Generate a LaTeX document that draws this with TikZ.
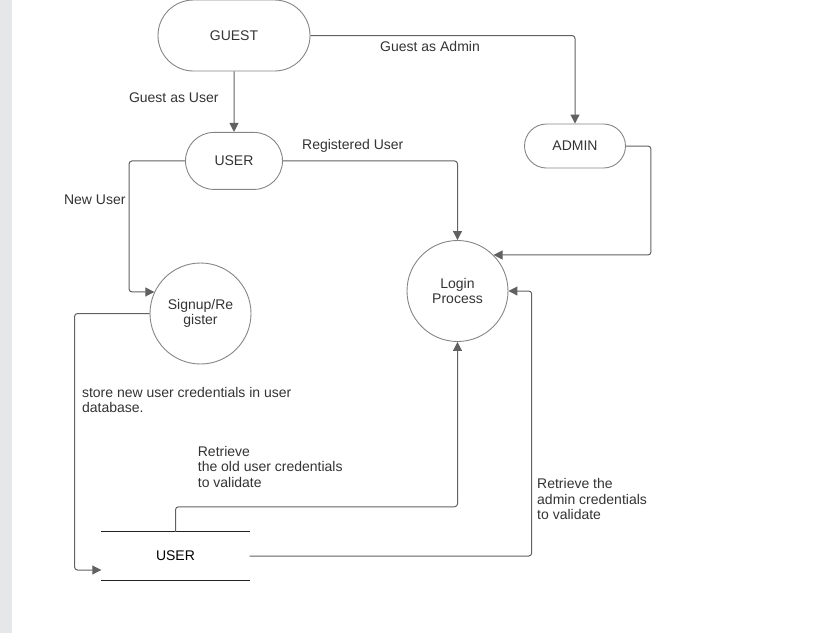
\documentclass[tikz,border=0pt]{standalone}
\usepackage{fontspec}
\setmainfont{Liberation Sans}
\usepackage{tikz}
\usetikzlibrary{arrows.meta, positioning, shapes.misc}
\definecolor{TextInk}{HTML}{333333}
\definecolor{NodeEdge}{HTML}{858585}
\definecolor{FlowInk}{HTML}{616161}
\definecolor{StoreInk}{HTML}{222222}
\definecolor{Strip}{HTML}{E6E7E8}

\begin{document}
\begin{tikzpicture}[
  x=1pt, y=-1pt,
  font=\fontsize{14}{15.5}\selectfont,
  text=TextInk,
  term/.style={
    rounded rectangle,
    draw=NodeEdge,
    line width=0.9pt,
    inner sep=0pt,
  },
  proc/.style={
    circle,
    draw=NodeEdge,
    line width=0.9pt,
    inner sep=0pt,
    minimum size=101pt,
    align=center,
  },
  flow/.style={
    -{Triangle[length=9pt, width=9pt]},
    FlowInk,
    line width=1pt,
    rounded corners=3pt,
  },
  lbl/.style={text=TextInk, align=left, inner sep=2pt},
]
  \useasboundingbox (0,0) rectangle (820,633);
  \fill[Strip] (0,0) rectangle (12,633);

  \node[term, minimum width=152pt, minimum height=71pt] (guest) at (234,35.5) {GUEST};
  \node[term, minimum width=97pt, minimum height=57pt, below=60.5pt of guest] (user) {USER};
  \node[term, minimum width=101pt, minimum height=44pt] (admin) at (575,146) {ADMIN};
  \node[proc] (login) at (457.5,291) {Login\\Process};
  \node[proc] (signup) at (200.5,313.5) {Signup/Re\\gister};
  \node[
    minimum width=148pt,
    minimum height=48pt,
    inner sep=0pt,
    text=black,
  ] (store) at (175.5,556) {USER};
  \draw[StoreInk, line width=1.1pt]
    (store.north west) -- (store.north east)
    (store.south west) -- (store.south east);

  \draw[flow] (guest) -- node[lbl, left=13pt, pos=0.43] {Guest as User} (user);
  \draw[flow] (guest.east) -| node[lbl, below=3pt, pos=0.226] {Guest as Admin} (admin.north);
  \draw[flow] (user.east) -| node[lbl, above=6pt, pos=0.2] {Registered User} (login.north);
  \draw[flow] (admin.east) -- ++(25,0) |- (login.45);
  \draw[flow] (user.west) -- ++(-56,0)
    |- node[lbl, left=1pt, pos=0.148] {New User} (signup.155);
  \draw[flow] (signup.west) -- ++(-75,0)
    |- node[lbl, right=5pt, pos=0.169] {store new user credentials in user\\database.}
    ([yshift=-14pt]store.west);
  \draw[flow] (store.north) -- ++(0,-25)
    -| node[lbl, above=17pt, pos=0.168] {Retrieve\\the old user credentials\\to validate}
    (login.south);
  \draw[flow] (store.east) -- ++(282,0)
    |- node[lbl, right=3pt, pos=0.107] {Retrieve the\\admin credentials\\to validate}
    (login.east);
\end{tikzpicture}
\end{document}
